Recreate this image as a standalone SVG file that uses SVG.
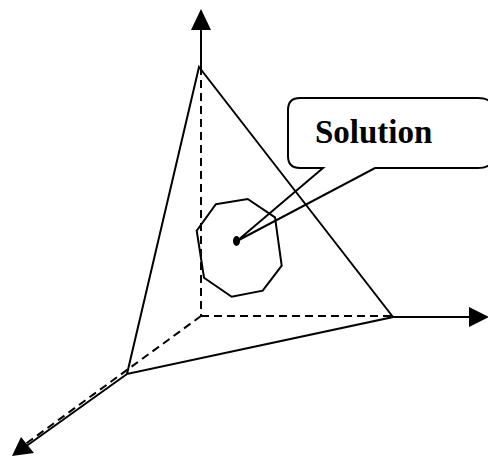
<svg xmlns="http://www.w3.org/2000/svg" width="488" height="458" viewBox="0 0 488 458">
<style>
.s{fill:none;stroke:#000;stroke-width:2;stroke-linejoin:miter}
.d{fill:none;stroke:#000;stroke-width:2;stroke-dasharray:8,5}
.h{fill:#000;stroke:none}
text{font-family:"Liberation Serif",serif;font-weight:bold;font-size:33px;fill:#000}
</style>
<rect width="488" height="458" fill="#fff"/>
<g id="axes">
<line class="s" x1="201" y1="67" x2="201" y2="26"/>
<polygon class="h" points="201,9 191,30 211,30"/>
<line class="d" x1="201" y1="67" x2="201" y2="316"/>
<line class="d" x1="201" y1="316" x2="393" y2="316"/>
<line class="s" x1="393" y1="317" x2="472" y2="317"/>
<polygon class="h" points="489,317 469,307 469,327"/>
<line class="d" x1="201" y1="316" x2="20" y2="448"/>
<line class="s" x1="127" y1="374" x2="25" y2="447"/>
<polygon class="h" points="12,456 21,437 34,453"/>
</g>
<g id="triangle">
<polygon class="s" points="199,67 393,317 127,374"/>
</g>
<g id="region">
<polygon class="s" points="215.7,204.3 247.7,199 275,217.3 281.7,265.7 262.7,290.7 231.7,296.7 204,277.7 196.7,230.7"/>
<ellipse class="h" cx="236.5" cy="241" rx="3.5" ry="5"/>
</g>
<g id="callout">
<path class="s" fill="#fff" d="M300,98 H478 Q494,98 494,112 V154 Q494,168 478,168 H375 L237,241 L323,168 H300 Q288,168 288,156 V110 Q288,98 300,98 Z"/>
<text x="315" y="143">Solution</text>
</g>
</svg>
